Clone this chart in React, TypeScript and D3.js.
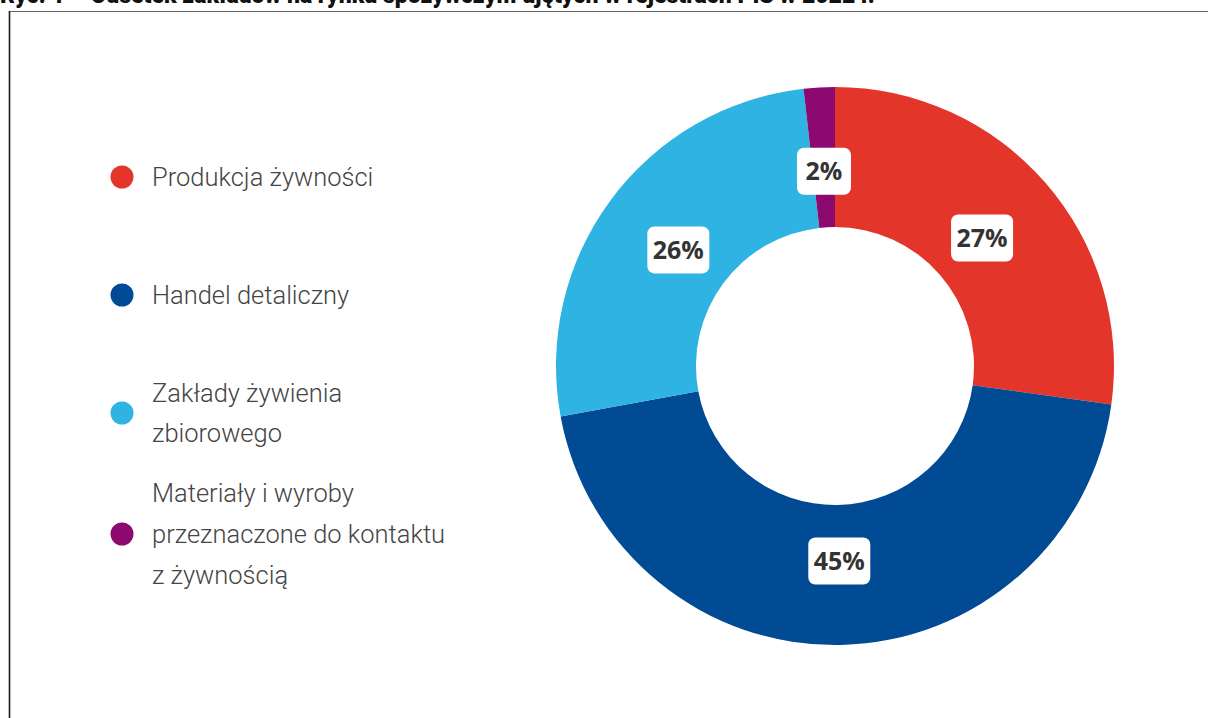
import { useRef, useEffect } from "react";
import * as d3 from "d3";

const categories = [
  "Produkcja żywności",
  "Handel detaliczny",
  "Zakłady żywienia zbiorowego",
  "Materiały i wyroby przeznaczone do kontaktu z żywnością",
];
const legendLines = [
  ["Produkcja żywności"],
  ["Handel detaliczny"],
  ["Zakłady żywienia", "zbiorowego"],
  ["Materiały i wyroby", "przeznaczone do kontaktu", "z żywnością"],
];
const values = [27.2, 44.9, 26.1, 1.8];
const labels = ["27%", "45%", "26%", "2%"];
const colors = ["#e4352b", "#004b93", "#2eb3e2", "#8c0a6f"];
const title =
  "Ryc. 1 – Odsetek zakładów na rynku spożywczym ujętych w rejestrach PIS w 2022 r.";

const App = () => {
  const svgRef = useRef(null);

  useEffect(() => {
    const svg = d3.select(svgRef.current);
    svg.selectAll("*").remove();

    // title, cut at the top edge like in the source
    svg
      .append("text")
      .attr("x", 0)
      .attr("y", 3)
      .attr("font-family", "Roboto")
      .attr("font-weight", 900)
      .attr("font-size", 23)
      .attr("fill", "#111")
      .text(title);

    // frame
    svg
      .append("line")
      .attr("x1", 9.5)
      .attr("x2", 1208)
      .attr("y1", 11.5)
      .attr("y2", 11.5)
      .attr("stroke", "#666")
      .attr("stroke-width", 1.2);
    svg
      .append("line")
      .attr("x1", 9.5)
      .attr("x2", 9.5)
      .attr("y1", 11)
      .attr("y2", 718)
      .attr("stroke", "#1a1a1a")
      .attr("stroke-width", 1.6);

    // donut
    const cx = 835;
    const cy = 366;
    const outer = 279;
    const inner = 139;
    const g = svg.append("g").attr("transform", `translate(${cx},${cy})`);

    const pie = d3.pie<number>().sort(null).value((d) => d);
    const arc = d3.arc<d3.PieArcDatum<number>>().innerRadius(inner).outerRadius(outer);
    const labelArc = d3.arc<d3.PieArcDatum<number>>().innerRadius(195).outerRadius(195);
    const arcs = pie(values);

    g.selectAll(".slice")
      .data(arcs)
      .enter()
      .append("path")
      .attr("class", "slice")
      .attr("d", arc)
      .attr("fill", (d) => colors[d.index]);

    const lab = g
      .selectAll(".lab")
      .data(arcs)
      .enter()
      .append("g")
      .attr("class", "lab")
      .attr("transform", (d) => `translate(${labelArc.centroid(d)})`);

    lab
      .append("rect")
      .attr("x", (d) => (labels[d.index].length === 2 ? -27 : -31))
      .attr("y", -23.5)
      .attr("width", (d) => (labels[d.index].length === 2 ? 54 : 62))
      .attr("height", 47)
      .attr("rx", 7)
      .attr("fill", "#fff");

    lab
      .append("text")
      .attr("text-anchor", "middle")
      .attr("dy", "0.36em")
      .attr("font-family", "Open Sans")
      .attr("font-weight", 700)
      .attr("font-size", 25)
      .attr("fill", "#333")
      .text((d) => labels[d.index]);

    // legend
    const legendY = [177, 295, 413, 534];
    const leg = svg
      .selectAll(".leg")
      .data(categories)
      .enter()
      .append("g")
      .attr("class", "leg")
      .attr("transform", (d, i) => `translate(0,${legendY[i]})`);

    leg
      .append("circle")
      .attr("cx", 122)
      .attr("cy", 0)
      .attr("r", 11.5)
      .attr("fill", (d, i) => colors[i]);

    leg
      .append("text")
      .attr("font-family", "Roboto")
      .attr("font-weight", 300)
      .attr("font-size", 26)
      .attr("fill", "#444")
      .attr("transform", "translate(152,0) scale(0.98,1)")
      .each(function (d, i) {
        const lines = legendLines[i];
        const t = d3.select(this);
        lines.forEach((line, j) => {
          t.append("tspan")
            .attr("x", 0)
            .attr("y", (j - (lines.length - 1) / 2) * 41 + 9)
            .text(line);
        });
      });
  }, []);

  return (
    <svg
      ref={svgRef}
      width="1208"
      height="718"
      style={{ position: "fixed", top: 0, left: 0, background: "#fff" }}
    ></svg>
  );
};

export default App;
